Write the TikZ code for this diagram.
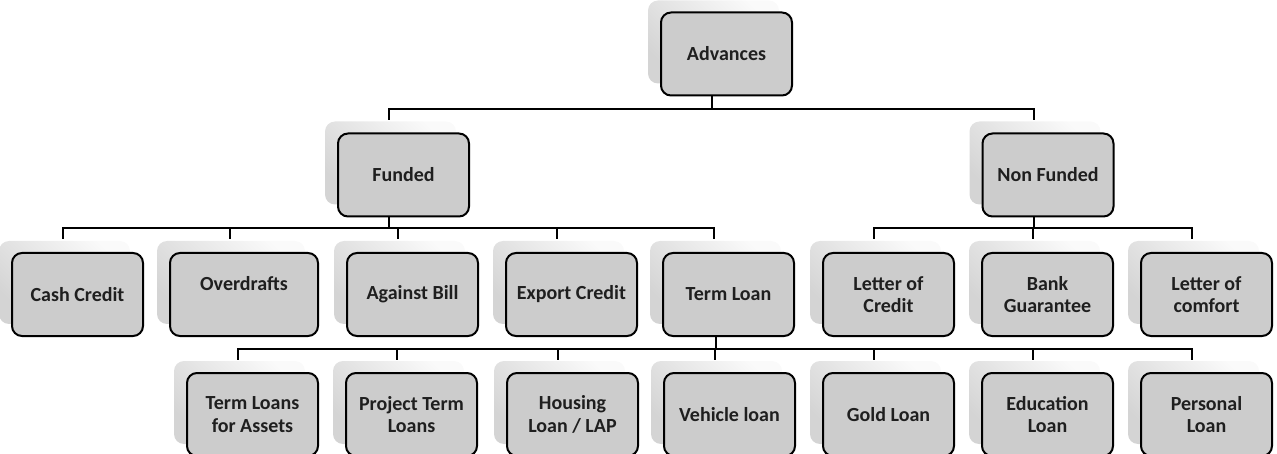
\documentclass[tikz,border=0pt]{standalone}
\usepackage{fontspec}
\setmainfont{Carlito}
\usetikzlibrary{shadows}

\begin{document}
\begin{tikzpicture}[x=1pt, y=-1pt,
  box/.style={rectangle, rounded corners=10pt, draw=black, line width=2pt, fill=black!20,
    minimum width=131pt, minimum height=83pt, inner sep=0pt, align=center, text=black!88,
    font=\fontsize{20}{22.5}\selectfont\bfseries,
    general shadow={shadow xshift=-13pt, shadow yshift=12pt, top color=black!2, bottom color=black!17, shading angle=-45}},
  link/.style={draw=black, line width=2pt}]
  \useasboundingbox (0,0) rectangle (1277,454);
  \node[box] (adv) at (726.5,54) {Advances};
  \node[box] (fund) at (403.5,175) {Funded};
  \node[box] (nonfund) at (1048,175) {Non Funded};
  \node[box] (cash) at (77.5,294.5) {Cash Credit};
  \node[box, minimum width=148pt] (over) at (244,294.5) {Overdrafts\\\mbox{}};
  \node[box] (bill) at (412.5,294.5) {Against Bill};
  \node[box] (export) at (571.5,294.5) {Export Credit};
  \node[box] (term) at (728.5,294.5) {Term Loan};
  \node[box] (credit) at (888.5,294.5) {Letter of\\Credit};
  \node[box] (bank) at (1047.5,294.5) {Bank\\Guarantee};
  \node[box] (comfort) at (1206.5,294.5) {Letter of\\comfort};
  \node[box] (assets) at (252.5,414.5) {Term Loans\\for Assets};
  \node[box] (project) at (411.5,414.5) {Project Term\\Loans};
  \node[box] (housing) at (572.5,414.5) {Housing\\Loan / LAP};
  \node[box] (vehicle) at (729.5,414.5) {Vehicle loan};
  \node[box] (gold) at (888.5,414.5) {Gold Loan};
  \node[box] (edu) at (1047.5,414.5) {Education\\Loan};
  \node[box] (personal) at (1206.5,414.5) {Personal\\Loan};
  % advances
  \draw[link] ([xshift=-15pt]adv.south) -- ++(0,13) -| ([xshift=-14.5pt,yshift=12.5pt]fund.north);
  \draw[link] ([xshift=-15pt]adv.south) -- ++(0,13) -| ([xshift=-14.5pt,yshift=12.5pt]nonfund.north);
  % funded
  \draw[link] ([xshift=-14.5pt]fund.south) -- ++(0,10.5) -| ([xshift=-14.5pt,yshift=12.5pt]cash.north);
  \draw[link] ([xshift=-14.5pt]fund.south) -- ++(0,10.5) -| ([xshift=-14.5pt,yshift=12.5pt]over.north);
  \draw[link] ([xshift=-14.5pt]fund.south) -- ++(0,10.5) -| ([xshift=-14.5pt,yshift=12.5pt]bill.north);
  \draw[link] ([xshift=-14.5pt]fund.south) -- ++(0,10.5) -| ([xshift=-14.5pt,yshift=12.5pt]export.north);
  \draw[link] ([xshift=-14.5pt]fund.south) -- ++(0,10.5) -| ([xshift=-14.5pt,yshift=12.5pt]term.north);
  % non funded
  \draw[link] ([xshift=-14.5pt]nonfund.south) -- ++(0,10.5) -| ([xshift=-14.5pt,yshift=12.5pt]credit.north);
  \draw[link] ([xshift=-14.5pt]nonfund.south) -- ++(0,10.5) -| ([xshift=-14.5pt,yshift=12.5pt]bank.north);
  \draw[link] ([xshift=-14.5pt]nonfund.south) -- ++(0,10.5) -| ([xshift=-14.5pt,yshift=12.5pt]comfort.north);
  % term loan
  \draw[link] ([xshift=-12.5pt]term.south) -- ++(0,12) -| ([xshift=-14.5pt,yshift=12.5pt]assets.north);
  \draw[link] ([xshift=-12.5pt]term.south) -- ++(0,12) -| ([xshift=-14.5pt,yshift=12.5pt]project.north);
  \draw[link] ([xshift=-12.5pt]term.south) -- ++(0,12) -| ([xshift=-14.5pt,yshift=12.5pt]housing.north);
  \draw[link] ([xshift=-12.5pt]term.south) -- ++(0,12) -| ([xshift=-14.5pt,yshift=12.5pt]vehicle.north);
  \draw[link] ([xshift=-12.5pt]term.south) -- ++(0,12) -| ([xshift=-14.5pt,yshift=12.5pt]gold.north);
  \draw[link] ([xshift=-12.5pt]term.south) -- ++(0,12) -| ([xshift=-14.5pt,yshift=12.5pt]edu.north);
  \draw[link] ([xshift=-12.5pt]term.south) -- ++(0,12) -| ([xshift=-14.5pt,yshift=12.5pt]personal.north);
\end{tikzpicture}
\end{document}
